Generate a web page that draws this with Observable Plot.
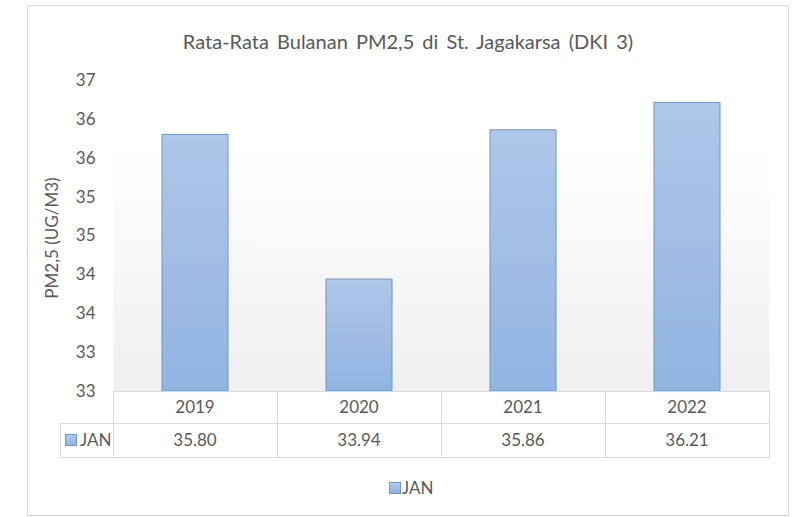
<!DOCTYPE html>
<html><head><meta charset="utf-8">
<script src="https://cdn.jsdelivr.net/npm/d3@7"></script>
<script src="https://cdn.jsdelivr.net/npm/@observablehq/plot@0.6"></script>
<style>
body{margin:0;background:#fff;font-family:Lato,"Open Sans",sans-serif;color:#595959;}
#box{position:absolute;left:27px;top:5px;width:762px;height:511px;border:1px solid #d9d9d9;box-sizing:border-box;}
#title{position:absolute;left:27px;width:762px;top:29px;text-align:center;font-size:20px;line-height:24px;word-spacing:3px;color:#595959;white-space:nowrap;}
#chart{position:absolute;left:0;top:0;}
.ln{position:absolute;background:#d9d9d9;}
.tx{position:absolute;font-size:17px;line-height:20px;text-align:center;color:#595959;white-space:nowrap;}
.key{position:absolute;width:10px;height:10px;border:1px solid #6f97c8;background:linear-gradient(#b4cbea,#8fb3e0);}
</style></head>
<body>
<div id="box"></div>
<div id="title"></div>
<div id="chart"></div>
<div id="tbl"></div>
<script>
const titleText = "Rata-Rata Bulanan PM2,5 di St. Jagakarsa (DKI 3)";
const yLabel = "PM2,5 (UG/M3)";
const seriesName = "JAN";
const years = ["2019", "2020", "2021", "2022"];
const janValues = [35.80, 33.94, 35.86, 36.21];
const tickValues = [32.5, 33, 33.5, 34, 34.5, 35, 35.5, 36, 36.5];
const tickLabels = ["33", "33", "34", "34", "35", "35", "36", "36", "37"];
const yDomain = [32.5, 36.5];

const data = years.map((y, i) => ({year: y, value: janValues[i]}));

document.getElementById("title").textContent = titleText;

const chart = Plot.plot({
  width: 803, height: 400,
  marginLeft: 113, marginRight: 34, marginTop: 80, marginBottom: 9,
  style: {background: "transparent", fontFamily: "Lato, 'Open Sans', sans-serif", fontSize: "17px", color: "#595959"},
  x: {domain: years, paddingInner: 0.6, paddingOuter: 0.3, axis: null},
  y: {domain: yDomain, ticks: tickValues, tickFormat: d => tickLabels[tickValues.indexOf(d)], tickSize: 0, tickPadding: 18, label: null},
  marks: [
    Plot.frame({fill: "url(#plotBg)", stroke: "none"}),
    Plot.barY(data, {x: "year", y1: yDomain[0], y2: "value", fill: "url(#barGrad)", stroke: "#6f97c8", strokeWidth: 1}),
    Plot.text([yLabel], {frameAnchor: "left", textAnchor: "middle", rotate: -90, dx: -61, dy: 2, fontSize: 17, fill: "#595959"})
  ]
});
d3.select(chart).insert("defs", ":first-child").html(`
  <linearGradient id="plotBg" x1="0" y1="0" x2="0" y2="1">
    <stop offset="0" stop-color="#ffffff"/><stop offset="0.2" stop-color="#ffffff"/><stop offset="1" stop-color="#efefef"/>
  </linearGradient>
  <linearGradient id="barGrad" x1="0" y1="0" x2="0" y2="1">
    <stop offset="0" stop-color="#afc7e8"/><stop offset="1" stop-color="#91b4e1"/>
  </linearGradient>`);
document.getElementById("chart").appendChild(chart);

// data table under the plot, aligned with Plot's x scale
const xs = chart.scale("x");
const ys = chart.scale("y");
const step = xs.step, bw = xs.bandwidth;
const top0 = ys.apply(yDomain[0]);
const rowH = [32, 34];
const top1 = top0 + rowH[0], top2 = top1 + rowH[1];
const leftCell = 60;
const xLeft = xs.range[0], xRight = xs.range[1];
const tbl = document.getElementById("tbl");
function ln(x, y, w, h) { const d = document.createElement("div"); d.className = "ln"; Object.assign(d.style, {left: x + "px", top: y + "px", width: w + "px", height: h + "px"}); tbl.appendChild(d); }
function tx(s, cx, cy, align) { const d = document.createElement("div"); d.className = "tx"; d.textContent = s;
  if (align === "left") { Object.assign(d.style, {left: cx + "px", top: (cy - 10) + "px", textAlign: "left"}); }
  else { Object.assign(d.style, {left: (cx - 60) + "px", width: "120px", top: (cy - 10) + "px"}); }
  tbl.appendChild(d); return d; }
function key(x, y) { const d = document.createElement("div"); d.className = "key"; Object.assign(d.style, {left: x + "px", top: y + "px"}); tbl.appendChild(d); }
ln(xLeft, top0, xRight - xLeft + 1, 1);
ln(leftCell, top1, xRight - leftCell + 1, 1);
ln(leftCell, top2, xRight - leftCell + 1, 1);
ln(leftCell, top1, 1, rowH[1]);
years.forEach((y, i) => {
  const c = xs.apply(y) + bw / 2;
  ln(Math.round(c - step / 2), top0, 1, top2 - top0);
  tx(y, c, top0 + rowH[0] / 2);
  tx(janValues[i].toFixed(2), c, top1 + rowH[1] / 2);
});
ln(xRight, top0, 1, top2 - top0);
key(65, top1 + 11);
tx(seriesName, 80, top1 + rowH[1] / 2, "left");
// legend
key(389, 482);
tx(seriesName, 402, 488, "left");
</script>
</body></html>
